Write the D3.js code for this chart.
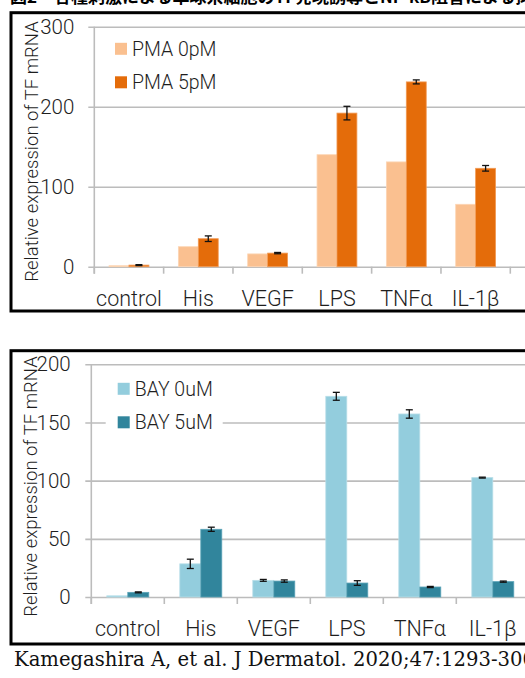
<!DOCTYPE html>
<html>
<head>
<meta charset="utf-8">
<script src="https://cdn.jsdelivr.net/npm/d3@7"></script>
<style>
body { margin:0; background:#fff; }
svg { display:block; }
.lbl { font-family: Roboto, "Noto Sans", sans-serif; font-weight:300; fill:#1e1e1e; }
</style>
</head>
<body>
<svg id="fig" width="525" height="678"></svg>
<script>
// ---- data ----
var categories = ["control", "His", "VEGF", "LPS", "TNFα", "IL-1β"]

var pmaNames = ["PMA 0pM", "PMA 5pM"]
var pma0 = [1.2, 25, 16, 140, 131, 78]
var pma5 = [2, 35, 17, 192, 231, 123]
var pma5Err = [0.6, 3.5, 0.8, 8.5, 2.5, 3.5]

var bayNames = ["BAY 0uM", "BAY 5uM"]
var bay0 = [1, 28.5, 14.3, 172.5, 157.3, 102.6]
var bay0Err = [0, 4, 0.8, 3.4, 3.6, 0.4]
var bay5 = [4, 58.2, 13.7, 12, 8.6, 13.2]
var bay5Err = [0.4, 1.8, 1, 2, 0.5, 0.5]

var topTicks = [0, 100, 200, 300]
var bottomTicks = [0, 50, 100, 150, 200]

var yTitle = "Relative expression of TF mRNA"
var figTitle = "図2　各種刺激による単球系細胞のTF発現誘導とNF-κB阻害による抑制"
var citation = "Kamegashira A, et al. J Dermatol. 2020;47:1293-300"

var svg = d3.select("#fig")

// title strip, cut off at the top edge as in the source picture
svg.append("text")
    .attr("x", 10).attr("y", 3)
    .style("font-family", "'Noto Sans CJK JP', sans-serif")
    .style("font-size", "17px").style("font-weight", "bold")
    .attr("fill", "#000")
    .text(figTitle)

function drawPanel(p)
{
  var g = svg.append("g")

  // frame
  g.append("rect")
      .attr("x", p.box[0]).attr("y", p.box[1])
      .attr("width", p.box[2]).attr("height", p.box[3])
      .attr("fill", "#fff").attr("stroke", "#000").attr("stroke-width", 3)

  var x = d3.scaleBand().domain(categories).range(p.xr)
  var groupW = x.bandwidth() * 0.575
  var xs = d3.scaleBand().domain([0, 1]).range([0, groupW])
  var y = d3.scaleLinear().domain(p.yd).range(p.yr)

  // gridlines + y labels
  var yAxis = g.append("g")
      .attr("transform", "translate(" + p.xr[0] + ",0)")
      .call(d3.axisLeft(y).tickValues(p.ticks).tickSize(6)
          .tickPadding(p.labelPad).tickFormat(d3.format("d")))
  yAxis.select(".domain").remove()
  yAxis.selectAll(".tick line")
      .attr("x1", -6)
      .attr("x2", 540 - p.xr[0])
      .attr("stroke", "#bcbcbc").attr("stroke-width", 1.6)
  yAxis.selectAll(".tick text")
      .attr("class", "lbl").style("font-size", "20.5px")

  // vertical axis line
  g.append("line")
      .attr("x1", p.xr[0]).attr("x2", p.xr[0])
      .attr("y1", y(p.yd[1])).attr("y2", y(0) + 7)
      .attr("stroke", "#bcbcbc").attr("stroke-width", 1.6)

  // x axis labels and separators
  var xAxis = g.append("g")
      .attr("transform", "translate(0," + y(0) + ")")
      .call(d3.axisBottom(x).tickSize(0).tickPadding(p.catPad))
  xAxis.select(".domain").remove()
  xAxis.selectAll(".tick text").attr("class", "lbl").style("font-size", "21.5px")
  g.selectAll(".sep")
      .data(categories.concat([""]))
    .enter().append("line")
      .attr("x1", function(d, i) { return p.xr[0] + i * x.step() })
      .attr("x2", function(d, i) { return p.xr[0] + i * x.step() })
      .attr("y1", y(0)).attr("y2", y(0) + 7)
      .attr("stroke", "#bcbcbc").attr("stroke-width", 1.6)

  // legend (white backing cuts the gridline)
  g.append("rect")
      .attr("x", p.leg[0] - 12).attr("y", p.leg[1] - 18)
      .attr("width", 117).attr("height", 70)
      .attr("fill", "#fff")
  p.names.forEach(function(n, k) {
    var ly = p.leg[1] + k * 33.5
    g.append("rect")
        .attr("x", p.leg[0]).attr("y", ly - 6)
        .attr("width", 12).attr("height", 12)
        .attr("fill", p.colors[k])
    g.append("text")
        .attr("class", "lbl")
        .attr("x", p.leg[0] + 17).attr("y", ly)
        .attr("dy", "0.35em")
        .style("font-size", "19.5px")
        .text(n)
  })

  // bars
  p.series.forEach(function(vals, k) {
    var left = function(d, i) { return x(categories[i]) + (x.bandwidth() - groupW) / 2 + xs(k) }
    g.selectAll(".bar" + k)
        .data(vals)
      .enter().append("rect")
        .attr("x", left)
        .attr("width", xs.bandwidth())
        .attr("y", function(d) { return y(d) })
        .attr("height", function(d) { return y(0) - y(d) })
        .attr("fill", p.colors[k])
        .attr("stroke", p.edges[k]).attr("stroke-width", 0.8)

    var err = p.errors[k]
    if (!err) return
    var eg = g.selectAll(".err" + k)
        .data(vals)
      .enter().append("g")
        .attr("transform", function(d, i) {
          return "translate(" + (left(d, i) + xs.bandwidth() / 2) + ",0)" })
    eg.append("line")
        .attr("y1", function(d, i) { return y(d + err[i]) })
        .attr("y2", function(d, i) { return y(d - err[i]) })
        .attr("stroke", "#111").attr("stroke-width", 1.3)
    eg.selectAll(".cap")
        .data(function(d, i) { return err[i] > 0 ? [d + err[i], d - err[i]] : [] })
      .enter().append("line")
        .attr("x1", -3.5).attr("x2", 3.5)
        .attr("y1", function(v) { return y(v) })
        .attr("y2", function(v) { return y(v) })
        .attr("stroke", "#111").attr("stroke-width", 1.3)
  })

  // y title
  g.append("text")
      .attr("class", "lbl")
      .attr("transform", "translate(" + p.titleXY[0] + "," + p.titleXY[1] + ") rotate(-90)")
      .attr("text-anchor", "middle")
      .attr("dy", "0.35em")
      .style("font-size", "18.5px")
      .text(yTitle)
}

drawPanel({
  box: [11, 12.7, 530, 298.3],
  xr: [94.3, 510.3],
  yd: [0, 300], yr: [266.7, 26.7],
  ticks: topTicks, labelPad: 14, catPad: 24,
  leg: [115, 48.8],
  names: pmaNames,
  series: [pma0, pma5],
  errors: [null, pma5Err],
  colors: ["#FAC090", "#E46C0A"],
  edges: ["#FCD5B4", "#F29A55"],
  titleXY: [31.5, 151.5]
})

drawPanel({
  box: [11, 350.7, 530, 293.3],
  xr: [91.3, 529.3],
  yd: [0, 200], yr: [597, 364.3],
  ticks: bottomTicks, labelPad: 14.6, catPad: 24,
  leg: [117.7, 388.8],
  names: bayNames,
  series: [bay0, bay5],
  errors: [bay0Err, bay5Err],
  colors: ["#93CDDD", "#31859C"],
  edges: ["#B7DEE8", "#5AA3B7"],
  titleXY: [30.5, 486.5]
})

svg.append("text")
    .attr("x", 14).attr("y", 666)
    .style("font-family", "'DejaVu Serif', 'Liberation Serif', serif")
    .style("font-size", "19.6px")
    .attr("fill", "#111")
    .text(citation)
</script>
</body>
</html>
